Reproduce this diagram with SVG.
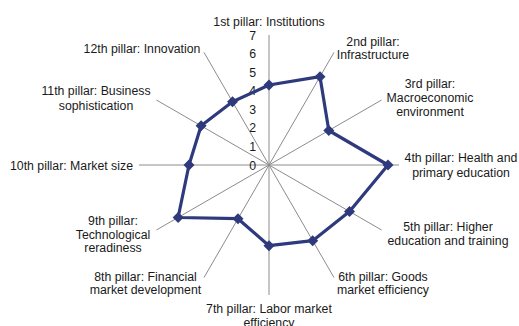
<svg xmlns="http://www.w3.org/2000/svg" width="519" height="326" viewBox="0 0 519 326">
<style>
text{font-family:"Liberation Sans",Arial,sans-serif;font-size:12.3px;fill:#1a1a1a}
.axis{stroke:#8c8c8c;stroke-width:1;fill:none}
.data{stroke:#2f3a7d;stroke-width:3.2;fill:none;stroke-linejoin:round}
.m{fill:#2f3a7d}
.tick{text-anchor:end}
.c{text-anchor:middle}
</style>
<defs>
<path id="dm" d="M0,-5.5 L5.5,0 L0,5.5 L-5.5,0 Z"/>
</defs>
<rect width="519" height="326" fill="#ffffff"/>
<g id="connectors">
<line class="axis" x1="269" y1="165" x2="269" y2="35"/>
<line class="axis" x1="269" y1="165" x2="334" y2="52.4"/>
<line class="axis" x1="269" y1="165" x2="381.6" y2="100"/>
<line class="axis" x1="269" y1="165" x2="399" y2="165"/>
<line class="axis" x1="269" y1="165" x2="381.6" y2="230"/>
<line class="axis" x1="269" y1="165" x2="334" y2="277.6"/>
<line class="axis" x1="269" y1="165" x2="269" y2="295"/>
<line class="axis" x1="269" y1="165" x2="204" y2="277.6"/>
<line class="axis" x1="269" y1="165" x2="156.4" y2="230"/>
<line class="axis" x1="269" y1="165" x2="139" y2="165"/>
<line class="axis" x1="269" y1="165" x2="156.4" y2="100"/>
<line class="axis" x1="269" y1="165" x2="204" y2="52.4"/>
</g>
<g id="ticks">
<text class="tick" x="256" y="169.5">0</text>
<text class="tick" x="256" y="150.9">1</text>
<text class="tick" x="256" y="132.4">2</text>
<text class="tick" x="256" y="113.8">3</text>
<text class="tick" x="256" y="95.2">4</text>
<text class="tick" x="256" y="76.6">5</text>
<text class="tick" x="256" y="58.1">6</text>
<text class="tick" x="256" y="39.5">7</text>
</g>
<g id="series">
<polygon class="data" points="269,85 320,76.7 328.8,130.5 388,165 349.5,211.5 312.7,240.7 269,245.7 238,218.7 178.1,217.5 189,165 201.1,125.8 232.5,101.8"/>
<use class="m" href="#dm" x="269" y="85"/>
<use class="m" href="#dm" x="320" y="76.7"/>
<use class="m" href="#dm" x="328.8" y="130.5"/>
<use class="m" href="#dm" x="388" y="165"/>
<use class="m" href="#dm" x="349.5" y="211.5"/>
<use class="m" href="#dm" x="312.7" y="240.7"/>
<use class="m" href="#dm" x="269" y="245.7"/>
<use class="m" href="#dm" x="238" y="218.7"/>
<use class="m" href="#dm" x="178.1" y="217.5"/>
<use class="m" href="#dm" x="189" y="165"/>
<use class="m" href="#dm" x="201.1" y="125.8"/>
<use class="m" href="#dm" x="232.5" y="101.8"/>
</g>
<g id="p1"><text class="c" x="269" y="26">1st pillar: Institutions</text></g>
<g id="p2"><text class="c" x="373" y="46">2nd pillar:</text><text class="c" x="373" y="59">Infrastructure</text></g>
<g id="p3"><text class="c" x="430" y="87.5">3rd pillar:</text><text class="c" x="430" y="102">Macroeconomic</text><text class="c" x="430" y="116">environment</text></g>
<g id="p4"><text class="c" x="461" y="162">4th pillar: Health and</text><text class="c" x="461" y="177">primary education</text></g>
<g id="p5"><text class="c" x="448" y="230.5">5th pillar: Higher</text><text class="c" x="448" y="244.5">education and training</text></g>
<g id="p6"><text class="c" x="383" y="280.5">6th pillar: Goods</text><text class="c" x="383" y="294">market efficiency</text></g>
<g id="p7"><text class="c" x="269" y="313">7th pillar: Labor market</text><text class="c" x="269" y="327">efficiency</text></g>
<g id="p8"><text class="c" x="145.5" y="281">8th pillar: Financial</text><text class="c" x="145.5" y="294">market development</text></g>
<g id="p9"><text class="c" x="113" y="224.5">9th pillar:</text><text class="c" x="113" y="238.5">Technological</text><text class="c" x="113" y="252">reradiness</text></g>
<g id="p10"><text x="133" y="169.5" text-anchor="end">10th pillar: Market size</text></g>
<g id="p11"><text class="c" x="96" y="95">11th pillar: Business</text><text class="c" x="96" y="109.5">sophistication</text></g>
<g id="p12"><text class="c" x="142" y="52.5">12th pillar: Innovation</text></g>
</svg>
